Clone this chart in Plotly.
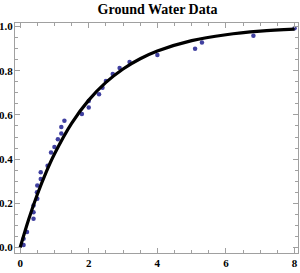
import plotly.graph_objects as go

# Measured data points
data_x = [0.1, 0.1, 0.2, 0.39, 0.39, 0.39, 0.5, 0.49, 0.5, 0.6, 0.6, 0.8, 0.9, 1.0, 1.1,
          1.2, 1.2, 1.29, 1.8, 2.0, 2.0, 2.3, 2.4, 2.5, 2.7, 2.9, 3.19, 4.0, 5.1, 5.3, 6.8, 8.0]
data_y = [0.011, 0.04, 0.07, 0.13, 0.16, 0.19, 0.22, 0.25, 0.28, 0.31, 0.34, 0.37, 0.43, 0.455, 0.49,
          0.516, 0.545, 0.574, 0.604, 0.633, 0.663, 0.693, 0.723, 0.753, 0.785, 0.812, 0.84, 0.871, 0.90, 0.928, 0.958, 0.992]

# Fitted curve
fit_x = [0, 0.25, 0.5, 0.75, 1, 1.5, 2, 2.5, 3, 3.5, 4, 5, 6, 7, 8]
fit_y = [0, 0.128, 0.240, 0.338, 0.423, 0.562, 0.667, 0.747, 0.808, 0.854, 0.889, 0.936, 0.963, 0.979, 0.988]

title_text = "Ground Water Data"
x_ticks = [0, 2, 4, 6, 8]
y_ticks = [0.0, 0.2, 0.4, 0.6, 0.8, 1.0]

serif = "Liberation Serif"
frame = "#a0a0a0"

fig = go.Figure()
fig.add_trace(go.Scatter(x=data_x, y=data_y, mode="markers",
                         marker=dict(color="#4040a0", size=4.5, line=dict(width=0)),
                         showlegend=False))
fig.add_trace(go.Scatter(x=fit_x, y=fit_y, mode="lines", line=dict(color="black", width=3.2, shape="spline"),
                         showlegend=False))

axis_common = dict(showgrid=False, zeroline=False, showline=True, linecolor=frame, linewidth=1,
                   mirror="ticks", ticks="inside", tickcolor=frame, ticklen=5, tickwidth=1,
                   automargin=False,
                   tickfont=dict(family=serif, size=11, color="black", weight="bold"))

fig.update_layout(
    width=300, height=273,
    margin=dict(l=15, r=2, t=23, b=20, autoexpand=False),
    paper_bgcolor="white", plot_bgcolor="white",
    title=dict(text=title_text, x=0.525, xanchor="center", yref="container", y=0.985, yanchor="top",
               font=dict(family=serif, size=14, color="black", weight="bold")),
    xaxis=dict(range=[-0.15, 8.1], tickvals=x_ticks, ticktext=[str(v) for v in x_ticks],
               minor=dict(dtick=0.5, ticks="inside", ticklen=3, tickcolor=frame),
               **axis_common),
    yaxis=dict(range=[-0.025, 1.016], tickvals=y_ticks, ticktext=[f"{v:.1f}" for v in y_ticks],
               minor=dict(dtick=0.05, ticks="inside", ticklen=3, tickcolor=frame),
               ticklabelstandoff=-1,
               **axis_common),
)

fig.write_html("out.html", config={"displayModeBar": False},
               post_script="document.body.style.margin='0px';document.body.style.overflow='hidden';")
